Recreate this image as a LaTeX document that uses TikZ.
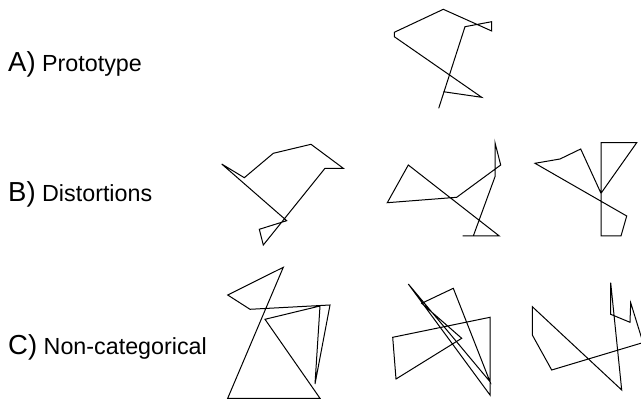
\documentclass[tikz,border=0pt]{standalone}
\usepackage{fontspec}
\setmainfont{Liberation Sans}
\tikzset{
  fig/.style={draw=black, line width=1pt, line join=miter},
  lbl/.style={anchor=base west, inner sep=0pt, font=\fontsize{23.3}{23.3}\selectfont},
}
\newcommand{\tagl}[1]{{\fontsize{27.5}{27.5}\selectfont #1}}
\begin{document}
\begin{tikzpicture}[x=1pt,y=-1pt]
\useasboundingbox (0,0) rectangle (641,406);
\clip (0,0) rectangle (641,406);
% labels
\node[lbl] (la) at (8,72) {\tagl{A)} Prototype};
\node[lbl] (lb) at (8,202) {\tagl{B)} Distortions};
\node[lbl] (lc) at (8,355) {\tagl{C)} Non-categorical};
% A prototype
\draw[fig] (438.7,108.3) -- (465,26.7) -- (491.7,21.7) -- (491.7,31) -- (443.3,9.3)
  -- (394.3,32.3) -- (394.3,36.7) -- (481.7,97.3) -- (443.3,91.7);
% B1
\draw[fig] (263.3,245) -- (259.3,229.3) -- (286.7,220.7) -- (221.7,164) -- (244.3,177.7)
  -- (273.3,153.3) -- (311,144.3) -- (343.3,168.3) -- (325,168.3) -- cycle;
% B2
\draw[fig] (462.7,236) -- (499.3,236) -- (408.3,165) -- (387.3,202.7) -- (456.7,197.3)
  -- (500.7,165) -- (495,142.7) -- (495,176.7) -- (473.3,236);
% B3
\draw[fig] (601,193.3) -- (636.7,142.7) -- (601,142.7) -- (601,236) -- (621,236)
  -- (626.7,216) -- (535,163.3) -- (560,159) -- (580.7,149) -- cycle;
% C1
\draw[fig] (320,398.3) -- (227.7,398.3) -- (283.3,267.3) -- (227.7,295) -- (250,309.3)
  -- (330,305) -- (315,384) -- (320,306) -- (265,319.3) -- cycle;
% C2
\draw[fig] (421.7,303.3) -- (453.3,288.3) -- (490,381.7) -- (408.3,284) -- (490,395)
  -- (490,317.3) -- (392.7,337.3) -- (396,379) -- (461.7,338.3) -- cycle;
% C3
\draw[fig] (643,342.6) -- (630.7,302.7) -- (630,322.3) -- (610.7,314.3) -- (610.7,282.7)
  -- (621.7,390) -- (532.3,306.7) -- (532.3,335) -- (551.7,370) -- cycle;
\end{tikzpicture}
\end{document}
